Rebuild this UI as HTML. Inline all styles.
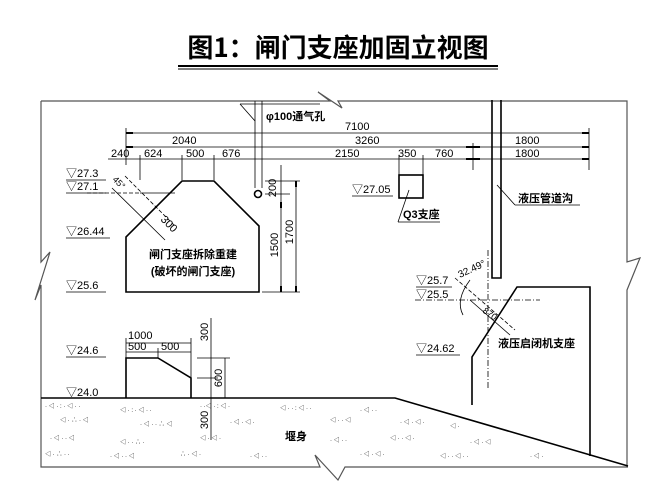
<!DOCTYPE html>
<html><head><meta charset="utf-8"><style>
html,body{margin:0;padding:0;background:#fff}
svg{display:block}
text{font-family:"Liberation Sans","Noto Sans CJK SC",sans-serif;fill:#000}
.c{font-family:"Noto Sans CJK SC","WenQuanYi Zen Hei",sans-serif;font-weight:bold}
</style></head><body>
<svg width="670" height="502" viewBox="0 0 670 502" xmlns="http://www.w3.org/2000/svg">
<text x="338" y="57" font-size="26" text-anchor="middle" class="c">图1：闸门支座加固立视图</text>
<line x1="178" y1="66" x2="498" y2="66" stroke="#000" stroke-width="2"/>
<line x1="178" y1="69" x2="498" y2="69" stroke="#000" stroke-width="1"/>
<g fill="none" stroke="#555" stroke-width="1.2">
<polyline points="41,101 330,101 318,92 342,108 338,101 627,101 627,262 640,258 627,290 627,465"/>
<polyline points="41,101 41,262 50,252 35,300 41,285 41,467 320,467 315,455 338,480 345,467 628,467"/>
</g>
<polyline points="41,398 395,398 628,466" fill="none" stroke="#000" stroke-width="1.6"/>
<g fill="#444" font-size="6">
<text x="45" y="408">· ◁ · : ·  ◁ · ·</text><text x="120" y="412">◁ ·  : · ◁  · ·</text><text x="200" y="408">· ·◁  · : ◁ ·</text><text x="280" y="410">◁ · · : ◁ · ·</text><text x="360" y="412">· ◁ · ·</text>
<text x="60" y="422">◁ · ∴ · ◁</text><text x="140" y="426">· ◁ · · ∴ ◁</text><text x="230" y="424">· ◁ ·  ◁ ·</text><text x="330" y="422">◁ · · ◁</text><text x="400" y="424">· ◁ · ◁ ·</text><text x="450" y="428">◁ ·</text>
<text x="50" y="440">· ◁ · · ◁</text><text x="120" y="444">◁ · · ∴ ·</text><text x="200" y="440">◁ · ◁ ·</text><text x="330" y="442">· ◁ · ·</text><text x="390" y="440">◁ · · ◁ ·</text><text x="470" y="444">· ◁ · ◁</text>
<text x="45" y="456">◁ · ∴ · ·</text><text x="110" y="458">· ◁ · · ◁</text><text x="180" y="456">∴ · ◁ ·</text><text x="250" y="458">· ◁ · ·</text><text x="360" y="456">· ◁ · ◁ ·</text><text x="440" y="458">◁ · · ◁ · ·</text><text x="530" y="458">· ◁ ·</text>
</g>
<text x="285" y="440" font-size="11" class="c">堰身</text>
<g fill="none" stroke="#000" stroke-width="1.6">
<polygon points="126,292 126,237 182,181 214,181 259,226 259,292"/>
<polyline points="126,398 126,358 158,358 191,378 191,398"/>
<rect x="399" y="175" width="24" height="23"/>
<polyline points="492,100 492,278 501,278 501,100"/>
<polyline points="472,405 472,357 517,287 590,287 590,456"/>
<circle cx="258" cy="194" r="3.5"/>
</g>
<g fill="none" stroke="#000" stroke-width="0.8">
<line x1="255" y1="101" x2="255" y2="188"/><line x1="262" y1="101" x2="262" y2="188"/>
<line x1="126" y1="133" x2="589" y2="133"/>
<line x1="126" y1="147" x2="589" y2="147"/>
<line x1="108" y1="159" x2="589" y2="159"/>
<line x1="126" y1="128" x2="126" y2="165"/><line x1="589" y1="128" x2="589" y2="170"/>
<line x1="473" y1="143" x2="473" y2="170"/>
<line x1="140" y1="155" x2="140" y2="180"/><line x1="182" y1="155" x2="182" y2="180"/><line x1="214" y1="155" x2="214" y2="180"/>
<line x1="399" y1="155" x2="399" y2="175"/><line x1="423" y1="155" x2="423" y2="175"/>
<line x1="281" y1="165" x2="281" y2="292"/><line x1="296" y1="181" x2="296" y2="292"/>
<line x1="265" y1="181" x2="300" y2="181"/><line x1="265" y1="194" x2="290" y2="194"/><line x1="262" y1="292" x2="300" y2="292"/>
<line x1="126" y1="343" x2="191" y2="343"/><line x1="126" y1="352" x2="191" y2="352"/>
<line x1="126" y1="338" x2="126" y2="358"/><line x1="191" y1="338" x2="191" y2="378"/><line x1="158" y1="348" x2="158" y2="358"/>
<line x1="211" y1="318" x2="211" y2="440"/><line x1="225" y1="358" x2="225" y2="398"/>
<line x1="197" y1="358" x2="230" y2="358"/><line x1="197" y1="378" x2="218" y2="378"/>
<line x1="87" y1="193" x2="140" y2="193" stroke-dasharray="4,2"/>
<line x1="140" y1="193" x2="175" y2="193"/>
<line x1="112" y1="188" x2="165" y2="240"/><line x1="125" y1="176" x2="175" y2="226" stroke-dasharray="4,2"/>
<line x1="240" y1="104" x2="255" y2="121"/><line x1="240" y1="104" x2="320" y2="104"/>
<line x1="409" y1="190" x2="398" y2="222"/><line x1="398" y1="222" x2="440" y2="222"/>
<line x1="497" y1="185" x2="515" y2="205"/><line x1="515" y1="205" x2="580" y2="205"/>
<line x1="415" y1="300" x2="540" y2="300" stroke-dasharray="6,2,1,2"/>
<line x1="488" y1="250" x2="488" y2="390" stroke-dasharray="6,2,1,2"/>
<line x1="455" y1="278" x2="515" y2="330" stroke-dasharray="4,2"/><line x1="470" y1="300" x2="510" y2="335"/>
<path d="M470,280 Q455,300 463,315"/>
</g>
<g stroke="#000" stroke-width="2">
<line x1="126" y1="133" x2="133" y2="133"/><line x1="582" y1="133" x2="589" y2="133"/>
<line x1="126" y1="147" x2="133" y2="147"/><line x1="582" y1="147" x2="589" y2="147"/>
<line x1="582" y1="159" x2="589" y2="159"/><line x1="466" y1="147" x2="480" y2="147"/><line x1="466" y1="159" x2="480" y2="159"/>
<line x1="281" y1="202" x2="281" y2="208"/><line x1="281" y1="286" x2="281" y2="292"/>
<line x1="296" y1="181" x2="296" y2="187"/><line x1="296" y1="286" x2="296" y2="292"/>
</g>
<g font-size="11">
<text x="172" y="144">2040</text><text x="345" y="130">7100</text><text x="355" y="144">3260</text><text x="515" y="144">1800</text>
<text x="111" y="157">240</text><text x="144" y="157">624</text><text x="186" y="157">500</text><text x="222" y="157">676</text><text x="335" y="157">2150</text><text x="398" y="157">350</text><text x="435" y="157">760</text><text x="515" y="157">1800</text>
<text x="128" y="339">1000</text><text x="128" y="350">500</text><text x="161" y="350">500</text>
<text transform="translate(278,245) rotate(-90)" text-anchor="middle">1500</text>
<text transform="translate(293,232) rotate(-90)" text-anchor="middle">1700</text>
<text transform="translate(276,188) rotate(-90)" text-anchor="middle">200</text>
<text transform="translate(208,332) rotate(-90)" text-anchor="middle">300</text>
<text transform="translate(222,378) rotate(-90)" text-anchor="middle">600</text>
<text transform="translate(208,420) rotate(-90)" text-anchor="middle">300</text>
<text transform="translate(160,220) rotate(45)">300</text>
<text transform="translate(112,180) rotate(45)" font-size="9">45°</text>
<text transform="translate(460,278) rotate(-25)" font-size="10">32.49°</text>
<text transform="translate(482,312) rotate(35)" font-size="9">870</text>
</g>
<g font-size="11" class="c">
<text x="266" y="120">φ100通气孔</text>
<text x="193" y="258" text-anchor="middle">闸门支座拆除重建</text>
<text x="193" y="275" text-anchor="middle">(破坏的闸门支座)</text>
<text x="403" y="218">Q3支座</text>
<text x="518" y="202">液压管道沟</text>
<text x="498" y="347">液压启闭机支座</text>
</g>
<g font-size="11" class="c" style="font-weight:normal">
<text x="66" y="177">▽27.3</text><text x="66" y="190">▽27.1</text><text x="66" y="235">▽26.44</text><text x="66" y="289">▽25.6</text><text x="66" y="354">▽24.6</text><text x="66" y="396">▽24.0</text>
<text x="352" y="193">▽27.05</text><text x="416" y="284">▽25.7</text><text x="416" y="298">▽25.5</text><text x="416" y="352">▽24.62</text>
</g>
<g stroke="#000" stroke-width="0.8">
<line x1="66" y1="180" x2="106" y2="180"/><line x1="66" y1="193" x2="106" y2="193"/><line x1="66" y1="238" x2="110" y2="238"/><line x1="66" y1="292" x2="106" y2="292"/><line x1="66" y1="357" x2="106" y2="357"/>
<line x1="352" y1="196" x2="393" y2="196"/><line x1="416" y1="287" x2="452" y2="287"/><line x1="416" y1="355" x2="460" y2="355"/>
</g>
</svg>
</body></html>
